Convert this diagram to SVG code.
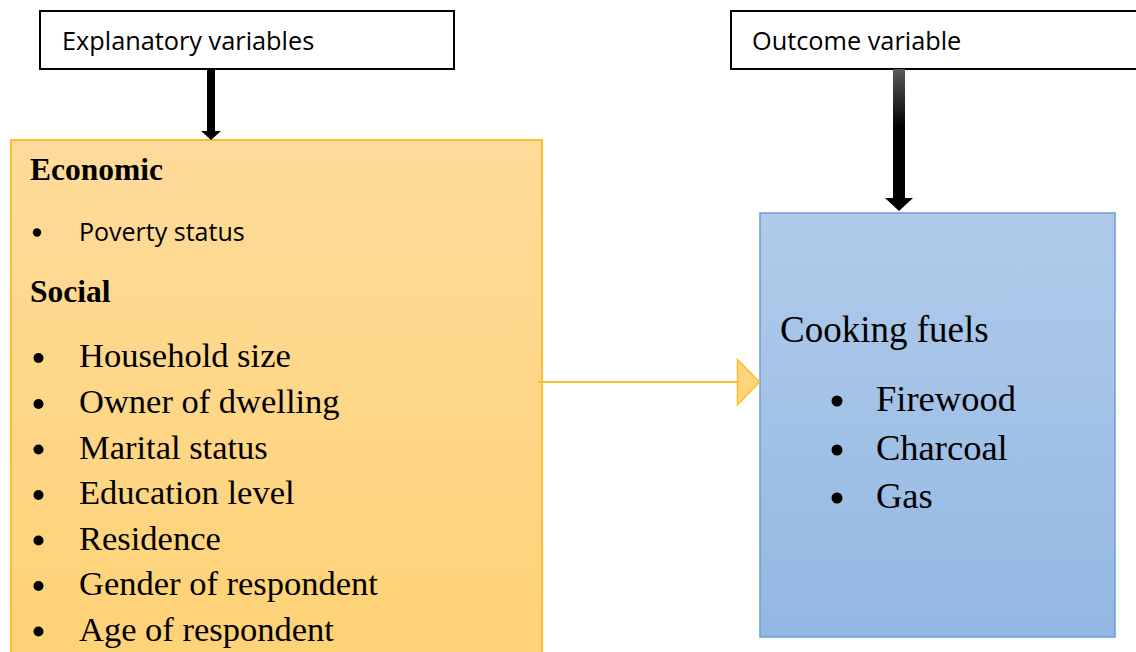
<svg xmlns="http://www.w3.org/2000/svg" width="1136" height="652" viewBox="0 0 1136 652">
  <defs>
    <linearGradient id="gOrange" x1="0" y1="0" x2="0" y2="1">
      <stop offset="0" stop-color="#fedb9b"/>
      <stop offset="1" stop-color="#fed275"/>
    </linearGradient>
    <linearGradient id="gBlue" x1="0" y1="0" x2="0" y2="1">
      <stop offset="0" stop-color="#b0cbea"/>
      <stop offset="1" stop-color="#93b8e3"/>
    </linearGradient>
    <linearGradient id="gShaft" x1="0" y1="0" x2="0" y2="1">
      <stop offset="0" stop-color="#5a5a5a"/>
      <stop offset="0.45" stop-color="#000"/>
      <stop offset="1" stop-color="#000"/>
    </linearGradient>
    <style>
      .hdr { fill:#fff; stroke:#000; stroke-width:2; }
      .sans { font-family:"Open Sans","Liberation Sans",sans-serif; fill:#000; }
      .serif { font-family:"Liberation Serif","Times New Roman",serif; fill:#000; }
      .bold { font-weight:bold; }
      .dot { fill:#000; }
    </style>
  </defs>

  <g id="node-explanatory">
    <rect class="hdr" x="40" y="11" width="414" height="58"/>
    <text class="sans" x="62" y="50" font-size="25.3">Explanatory variables</text>
  </g>

  <g id="node-outcome">
    <rect class="hdr" x="731" y="11" width="410" height="58"/>
    <text class="sans" x="752" y="50" font-size="25.3">Outcome variable</text>
  </g>

  <g id="node-factors">
    <rect x="11" y="140" width="531" height="520" fill="url(#gOrange)" stroke="#fbc02d" stroke-width="2"/>
    <text class="serif bold" x="30" y="180" font-size="31.5">Economic</text>
    <circle class="dot" cx="37" cy="232.5" r="4.2"/>
    <text class="sans" x="79" y="240.5" font-size="25">Poverty status</text>
    <text class="serif bold" x="30" y="302" font-size="31.5">Social</text>
    <g font-size="34.5" class="serif">
      <circle class="dot" cx="38.5" cy="358" r="5"/>
      <text class="serif" x="79" y="367">Household size</text>
      <circle class="dot" cx="38.5" cy="404" r="5"/>
      <text class="serif" x="79" y="413">Owner of dwelling</text>
      <circle class="dot" cx="38.5" cy="449.5" r="5"/>
      <text class="serif" x="79" y="458.5">Marital status</text>
      <circle class="dot" cx="38.5" cy="495" r="5"/>
      <text class="serif" x="79" y="504">Education level</text>
      <circle class="dot" cx="38.5" cy="540.5" r="5"/>
      <text class="serif" x="79" y="549.5">Residence</text>
      <circle class="dot" cx="38.5" cy="586" r="5"/>
      <text class="serif" x="79" y="595">Gender of respondent</text>
      <circle class="dot" cx="38.5" cy="631.5" r="5"/>
      <text class="serif" x="79" y="640.5">Age of respondent</text>
    </g>
  </g>

  <g id="node-cooking">
    <rect x="760" y="213" width="355" height="424" fill="url(#gBlue)" stroke="#6a9fd8" stroke-width="1.5"/>
    <text class="serif" x="780" y="342" font-size="37">Cooking fuels</text>
    <g font-size="36.5">
      <circle class="dot" cx="837" cy="401" r="5.5"/>
      <text class="serif" x="876" y="411">Firewood</text>
      <circle class="dot" cx="837" cy="450" r="5.5"/>
      <text class="serif" x="876" y="460">Charcoal</text>
      <circle class="dot" cx="837" cy="498" r="5.5"/>
      <text class="serif" x="876" y="508">Gas</text>
    </g>
  </g>

  <g id="connectors">
    <path d="M207,69 H215 V131 H221 L211,140 L201,131 H207 Z" fill="#000"/>
    <rect x="893" y="69" width="12" height="130" fill="url(#gShaft)"/>
    <path d="M885,198 H913 L899,211 Z" fill="#000"/>
    <line x1="538" y1="382" x2="738" y2="382" stroke="#fbc02d" stroke-width="2"/>
    <path d="M737.5,359.5 L759.5,382 L737.5,405 Z" fill="#fed47c" stroke="#fbc02d" stroke-width="1.5" stroke-linejoin="miter"/>
  </g>
</svg>
